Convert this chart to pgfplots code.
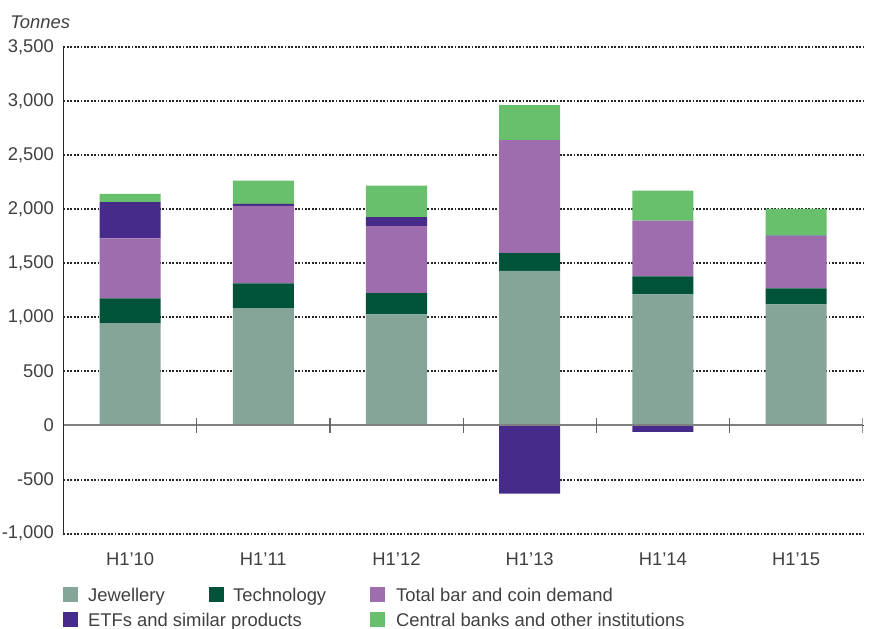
\documentclass[border=0pt]{standalone}
\usepackage{fontspec}
\setmainfont{Liberation Sans}
\usepackage{pgfplots}
\pgfplotsset{compat=1.18}
\definecolor{jew}{HTML}{84A598}
\definecolor{tech}{HTML}{005239}
\definecolor{barcoin}{HTML}{9E6DAD}
\definecolor{etf}{HTML}{472B8B}
\definecolor{cb}{HTML}{68BF6C}
\definecolor{txt}{HTML}{404040}
\newcommand{\cf}{\fontsize{9.2}{11}\selectfont}
\pgfplotsset{
  common/.style={
    at={(31.75pt,-266.8pt)}, anchor=south west,
    scale only axis, width=399.6pt, height=243.3pt,
    bar width=30.5pt,
    xmin=-0.5, xmax=5.5, ymin=-1000, ymax=3500,
  }
}
\begin{document}
\begin{tikzpicture}
\path[use as bounding box] (0,0) rectangle (435pt,-314pt);
\begin{axis}[
  common,
  ybar stacked,
  xtick={0,1,2,3,4,5},
  xticklabels={H1’10,H1’11,H1’12,H1’13,H1’14,H1’15},
  ytick={-1000,-500,0,500,1000,1500,2000,2500,3000,3500},
  yticklabels={{-1,000},{-500},{0},{500},{1,000},{1,500},{2,000},{2,500},{3,000},{3,500}},
  axis lines=left, axis line style={-},
  x axis line style={draw=none},
  y axis line style={draw=black!85, line width=0.75pt},
  major tick length=0pt,
  ymajorgrids,
  major grid style={draw=black!85, line width=0.95pt, dash pattern=on 0.9pt off 0.8pt},
  tick label style={font=\cf, text=txt},
  xticklabel style={yshift=-6pt},
  yticklabel style={xshift=-1.25pt},
]
% Jewellery
\addplot[fill=jew, draw=none] coordinates {(0,947) (1,1086) (2,1028) (3,1429) (4,1213) (5,1120)};
% Technology
\addplot[fill=tech, draw=none] coordinates {(0,229) (1,229) (2,197) (3,164) (4,167) (5,149)};
% Total bar and coin demand
\addplot[fill=barcoin, draw=none] coordinates {(0,555) (1,716) (2,618) (3,1046) (4,515) (5,481)};
% ETFs (inflows)
\addplot[fill=etf, draw=none] coordinates {(0,334) (1,18) (2,83) (3,0) (4,0) (5,5)};
% Central banks
\addplot[fill=cb, draw=none] coordinates {(0,77) (1,216) (2,293) (3,324) (4,278) (5,248)};
\end{axis}
\begin{axis}[common, ybar, hide axis]
% ETFs (outflows)
\addplot[fill=etf, draw=none] coordinates {(3,-630) (4,-58)};
% zero line and category ticks
\draw[black!50, line width=1pt] (axis cs:-0.5,0) -- (axis cs:5.5,0);
\draw[black!60, line width=0.6pt] (axis cs:0.5,-70) -- (axis cs:0.5,70);
\draw[black!60, line width=0.6pt] (axis cs:1.5,-70) -- (axis cs:1.5,70);
\draw[black!60, line width=0.6pt] (axis cs:2.5,-70) -- (axis cs:2.5,70);
\draw[black!60, line width=0.6pt] (axis cs:3.5,-70) -- (axis cs:3.5,70);
\draw[black!60, line width=0.6pt] (axis cs:4.5,-70) -- (axis cs:4.5,70);
\draw[black!60, line width=0.6pt] (axis cs:5.5,-70) -- (axis cs:5.5,70);
\end{axis}
\begin{scope}[x=0.5pt, y=-0.5pt]
\node[anchor=base west, inner sep=0pt, font=\cf\itshape, text=txt] at (10,28) {Tonnes};
% legend
\fill[jew] (63.3,586.7) rectangle ++(15,15);
\node[anchor=base west, inner sep=0pt, font=\cf, text=txt] at (87.7,601.5) {Jewellery};
\fill[tech] (209,586.7) rectangle ++(15,15);
\node[anchor=base west, inner sep=0pt, font=\cf, text=txt] at (232.7,601.5) {Technology};
\fill[barcoin] (370,586.7) rectangle ++(15,15);
\node[anchor=base west, inner sep=0pt, font=\cf, text=txt] at (395.7,601.5) {Total bar and coin demand};
\fill[etf] (63.3,612) rectangle ++(15,15);
\node[anchor=base west, inner sep=0pt, font=\cf, text=txt] at (87.7,626.5) {ETFs and similar products};
\fill[cb] (370,612) rectangle ++(15,15);
\node[anchor=base west, inner sep=0pt, font=\cf, text=txt] at (395.7,626.5) {Central banks and other institutions};
\end{scope}
\end{tikzpicture}
\end{document}
